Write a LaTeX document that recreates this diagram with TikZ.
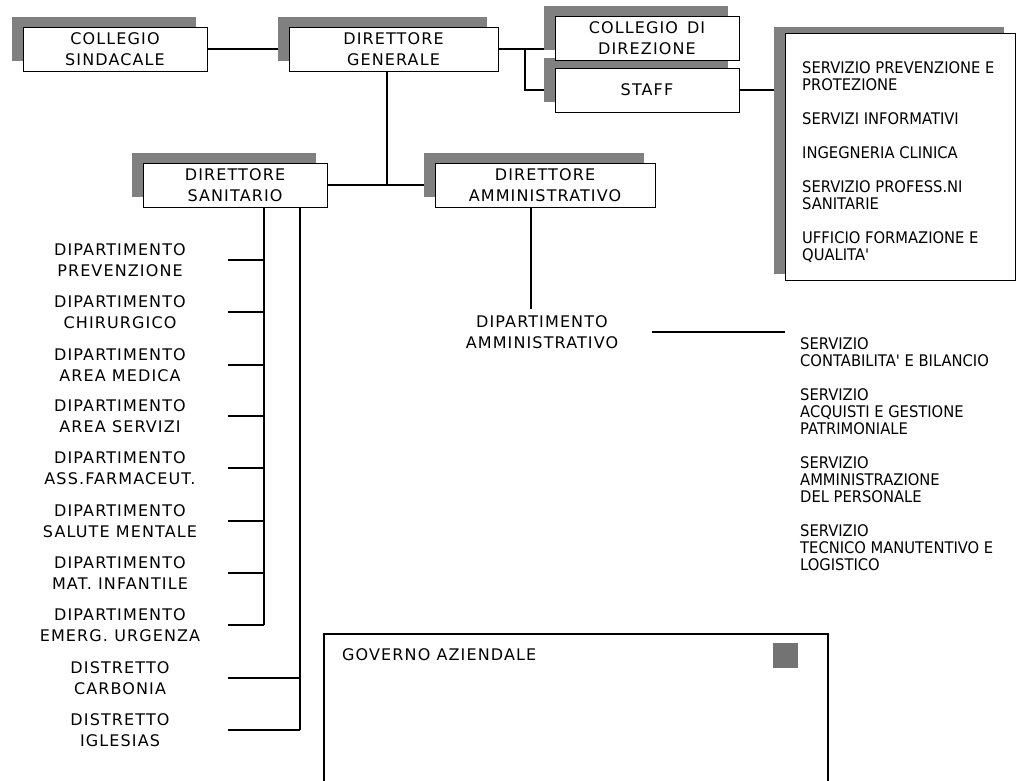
\documentclass[tikz,border=0pt]{standalone}
\usepackage{fontspec}
\setmainfont{DejaVu Sans}
\newfontfamily\spacedfont[LetterSpace=7]{DejaVu Sans}
\newfontfamily\listfont[FakeStretch=0.92]{DejaVu Sans}
\usetikzlibrary{shadows,backgrounds}

\tikzset{
  framebox/.style={draw=black, line width=0.8pt, fill=white, inner sep=0pt, align=center,
    font=\spacedfont\fontsize{16}{21}\selectfont},
  unitbox/.style={framebox, minimum height=44pt,
    general shadow={fill=black!50, shadow xshift=-11pt, shadow yshift=10pt}},
  listbox/.style={framebox,
    general shadow={fill=black!50, shadow xshift=-11pt, shadow yshift=6pt}},
  deptlabel/.style={minimum width=216pt, align=center, inner sep=0pt,
    font=\spacedfont\fontsize{16}{20.5}\selectfont},
  listtext/.style={align=left, inner sep=0pt, font=\listfont\fontsize{16}{17}\selectfont},
  link/.style={line width=1.1pt, draw=black},
}

\begin{document}
\begin{tikzpicture}[x=1pt,y=-1pt]
\useasboundingbox (0,0) rectangle (1017,781);

% top row
\node[unitbox, minimum width=184pt] (CS) at (115,49) {COLLEGIO\\SINDACALE};
\node[unitbox, minimum width=209pt] (DG) at (393.5,49) {DIRETTORE\\GENERALE};
\node[unitbox, minimum width=184pt] (STAFF) at (647,90) {STAFF};
\node[unitbox, minimum width=184pt] (CD) at (647,38) {COLLEGIO\hspace{9pt}DI\\DIREZIONE};

% staff list
\node[listbox, minimum width=230pt, minimum height=247pt] (LIST) at (900,156.5) {};
\node[listtext, anchor=north west] (staffitems) at (802,61)
  {SERVIZIO PREVENZIONE E\\PROTEZIONE\\[17pt]SERVIZI INFORMATIVI\\[17pt]INGEGNERIA CLINICA\\[17pt]SERVIZIO PROFESS.NI\\SANITARIE\\[17pt]UFFICIO FORMAZIONE E\\QUALITA'};

% second row
\node[unitbox, minimum width=184pt] (DS) at (235,185) {DIRETTORE\\SANITARIO};
\node[unitbox, minimum width=220pt] (DA) at (545,185) {DIRETTORE\\AMMINISTRATIVO};

% departments
\node[deptlabel] (d1) at (120,260) {DIPARTIMENTO\\PREVENZIONE};
\node[deptlabel] (d2) at (120,312) {DIPARTIMENTO\\CHIRURGICO};
\node[deptlabel] (d3) at (120,365) {DIPARTIMENTO\\AREA MEDICA};
\node[deptlabel] (d4) at (120,416) {DIPARTIMENTO\\AREA SERVIZI};
\node[deptlabel] (d5) at (120,468) {DIPARTIMENTO\\ASS.FARMACEUT.};
\node[deptlabel] (d6) at (120,521) {DIPARTIMENTO\\SALUTE MENTALE};
\node[deptlabel] (d7) at (120,573) {DIPARTIMENTO\\MAT. INFANTILE};
\node[deptlabel] (d8) at (120,625) {DIPARTIMENTO\\EMERG. URGENZA};
\node[deptlabel] (d9) at (120,678) {DISTRETTO\\CARBONIA};
\node[deptlabel] (d10) at (120,730) {DISTRETTO\\IGLESIAS};

% administrative department
\node[deptlabel, minimum width=220pt] (DAM) at (542,332) {DIPARTIMENTO\\AMMINISTRATIVO};
\node[listtext, anchor=north west] (SVC) at (800,337)
  {SERVIZIO\\CONTABILITA' E BILANCIO\\[17pt]SERVIZIO\\ACQUISTI E GESTIONE\\PATRIMONIALE\\[17pt]SERVIZIO\\AMMINISTRAZIONE\\DEL PERSONALE\\[17pt]SERVIZIO\\TECNICO MANUTENTIVO E\\LOGISTICO};

% governo aziendale panel
\draw[line width=1.4pt] (324,781) -- (324,634) -- (828,634) -- (828,781);
\node[anchor=west, inner sep=0pt, font=\spacedfont\fontsize{16}{20}\selectfont] (GA) at (342,655) {GOVERNO AZIENDALE};
\node[fill=black!55, minimum size=25pt, inner sep=0pt] (gsq) at (785,655.5) {};

% connectors
\coordinate (j1) at (525,49);
\coordinate (j2) at (387,185);
\coordinate (j3) at (531,309);
\coordinate (b1) at (264,0);
\coordinate (b2) at (300,0);
\coordinate (svcend) at (785,332);

\begin{scope}[on background layer]
\draw[link] (CS.east) -- (DG.west);
\draw[link] (DG.east) -- (j1) -- (j1 -| CD.west);
\draw[link] (j1) |- (STAFF.west);
\draw[link] (STAFF.east) -- (STAFF.east -| LIST.west);
\draw[link] (j2 |- DG.south) -- (j2);
\draw[link] (DS.east) -- (DA.west);
\draw[link] (b1 |- DS.south) -- (b1 |- d8.east);
\foreach \i in {1,...,8} { \draw[link] (d\i.east) -- (d\i.east -| b1); }
\draw[link] (b2 |- DS.south) -- (b2 |- d10.east);
\draw[link] (d9.east) -- (d9.east -| b2);
\draw[link] (d10.east) -- (d10.east -| b2);
\draw[link] (j3 |- DA.south) -- (j3);
\draw[link] (DAM.east) -- (svcend);
\end{scope}
\end{tikzpicture}
\end{document}
